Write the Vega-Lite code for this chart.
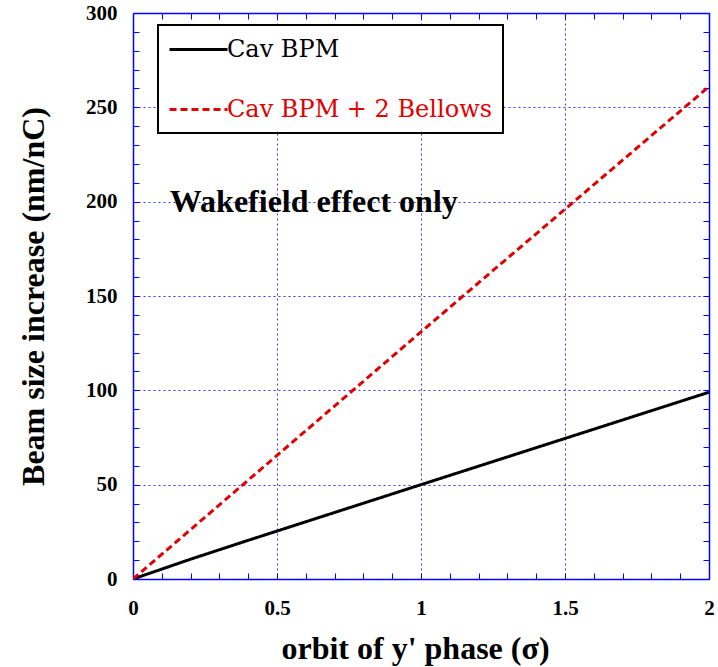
{
  "$schema": "https://vega.github.io/schema/vega-lite/v6.json",
  "width": 576,
  "height": 566,
  "autosize": {"type": "none"},
  "padding": {"left": 133, "top": 13, "right": 9, "bottom": 88},
  "background": "white",
  "view": {"stroke": null},
  "config": {
    "legend": {"labelFont": "DejaVu Serif", "labelFontSize": 24}
  },
  "datasets": {
    "main": [
      {"x": 0, "y": 0, "series": "Cav BPM"},
      {"x": 0.2, "y": 10.5, "series": "Cav BPM"},
      {"x": 0.4, "y": 20.5, "series": "Cav BPM"},
      {"x": 1.0, "y": 50, "series": "Cav BPM"},
      {"x": 1.5, "y": 74.5, "series": "Cav BPM"},
      {"x": 2.0, "y": 99, "series": "Cav BPM"},
      {"x": 0, "y": 0, "series": "Cav BPM + 2 Bellows"},
      {"x": 0.5, "y": 65.5, "series": "Cav BPM + 2 Bellows"},
      {"x": 1.0, "y": 131, "series": "Cav BPM + 2 Bellows"},
      {"x": 1.5, "y": 196, "series": "Cav BPM + 2 Bellows"},
      {"x": 2.0, "y": 261, "series": "Cav BPM + 2 Bellows"}
    ],
    "note": [
      {"x": 0.128, "y": 200, "label": "Wakefield effect only"}
    ]
  },
  "resolve": {"axis": {"x": "independent", "y": "independent"}},
  "layer": [
    {
      "data": {"name": "main"},
      "mark": {"type": "line", "strokeWidth": 3, "clip": true},
      "encoding": {
        "x": {
          "field": "x", "type": "quantitative",
          "scale": {"domain": [0, 2], "nice": false, "zero": false},
          "axis": {
            "orient": "bottom",
            "values": [0,0.1,0.2,0.3,0.4,0.5,0.6,0.7,0.8,0.9,1,1.1,1.2,1.3,1.4,1.5,1.6,1.7,1.8,1.9,2],
            "labelExpr": "abs(datum.value*2 - round(datum.value*2)) < 0.000001 ? '' + round(datum.value*10)/10 : ''",
            "labelFont": "Liberation Serif", "labelFontWeight": "bold", "labelFontSize": 21, "labelColor": "black",
            "labelPadding": 24, "labelFlush": false, "labelOverlap": false, "labelBaseline": "top",
            "domainColor": "#0000ff", "domainWidth": 1.5,
            "tickColor": "#0000ff", "tickWidth": 1, "tickSize": -6,
            "grid": true, "gridColor": "#3333ff", "gridDash": [2, 3], "gridWidth": 1,
            "gridOpacity": {"condition": {"test": "abs(datum.value*2 - round(datum.value*2)) < 0.000001", "value": 1}, "value": 0},
            "title": "orbit of y' phase (σ)",
            "titleFont": "Liberation Serif", "titleFontWeight": "bold", "titleFontSize": 32, "titleColor": "black",
            "titleX": 282, "titleY": 79, "titleBaseline": "alphabetic"
          }
        },
        "y": {
          "field": "y", "type": "quantitative",
          "scale": {"domain": [0, 300], "nice": false},
          "axis": {
            "orient": "left",
            "values": [0,10,20,30,40,50,60,70,80,90,100,110,120,130,140,150,160,170,180,190,200,210,220,230,240,250,260,270,280,290,300],
            "labelExpr": "datum.value % 50 === 0 ? '' + datum.value : ''",
            "labelFont": "Liberation Serif", "labelFontWeight": "bold", "labelFontSize": 21, "labelColor": "black",
            "labelPadding": 22, "labelFlush": false, "labelOverlap": false,
            "domainColor": "#0000ff", "domainWidth": 1.5,
            "tickColor": "#0000ff", "tickWidth": 1, "tickSize": -6,
            "grid": true, "gridColor": "#3333ff", "gridDash": [2, 3], "gridWidth": 1,
            "gridOpacity": {"condition": {"test": "datum.value % 50 === 0", "value": 1}, "value": 0},
            "title": "Beam size increase (nm/nC)",
            "titleFont": "Liberation Serif", "titleFontWeight": "bold", "titleFontSize": 32, "titleColor": "black",
            "titleX": -90, "titleBaseline": "alphabetic"
          }
        },
        "color": {
          "field": "series", "type": "nominal",
          "scale": {"domain": ["Cav BPM", "Cav BPM + 2 Bellows"], "range": ["#000000", "#e00000"]},
          "legend": {
            "title": null, "orient": "none", "legendX": 25, "legendY": 12,
            "fillColor": "white", "strokeColor": "black", "padding": 11,
            "symbolType": "M-2.5,0H2.5", "symbolSize": 538, "symbolStrokeWidth": 3, "symbolOffset": 16,
            "labelFont": "DejaVu Serif", "labelFontSize": 24, "labelOffset": 15,
            "rowPadding": 34, "labelLimit": 400,
            "encode": {
              "legend": {"update": {"strokeWidth": {"value": 2}}},
              "labels": {"update": {"fill": {"signal": "datum.label === 'Cav BPM' ? '#000000' : '#e00000'"}}}
            }
          }
        },
        "strokeDash": {
          "field": "series", "type": "nominal",
          "scale": {"domain": ["Cav BPM", "Cav BPM + 2 Bellows"], "range": [[1, 0], [7, 4]]},
          "legend": {
            "title": null, "orient": "none", "legendX": 25, "legendY": 12,
            "fillColor": "white", "strokeColor": "black", "padding": 11,
            "symbolType": "M-2.5,0H2.5", "symbolSize": 538, "symbolStrokeWidth": 3, "symbolOffset": 16,
            "labelFont": "DejaVu Serif", "labelFontSize": 24, "labelOffset": 15,
            "rowPadding": 34, "labelLimit": 400,
            "encode": {
              "legend": {"update": {"strokeWidth": {"value": 2}}},
              "labels": {"update": {"fill": {"signal": "datum.label === 'Cav BPM' ? '#000000' : '#e00000'"}}}
            }
          }
        }
      }
    },
    {
      "data": {"name": "main"},
      "mark": {"type": "line", "strokeOpacity": 0},
      "encoding": {
        "detail": {"field": "series"},
        "x": {
          "field": "x", "type": "quantitative",
          "axis": {
            "orient": "top", "labels": false, "title": null, "grid": false,
            "values": [0,0.1,0.2,0.3,0.4,0.5,0.6,0.7,0.8,0.9,1,1.1,1.2,1.3,1.4,1.5,1.6,1.7,1.8,1.9,2],
            "domainColor": "#0000ff", "domainWidth": 1.5,
            "tickColor": "#0000ff", "tickWidth": 1, "tickSize": -6
          }
        },
        "y": {
          "field": "y", "type": "quantitative",
          "axis": {
            "orient": "right", "labels": false, "title": null, "grid": false,
            "values": [0,10,20,30,40,50,60,70,80,90,100,110,120,130,140,150,160,170,180,190,200,210,220,230,240,250,260,270,280,290,300],
            "domainColor": "#0000ff", "domainWidth": 1.5,
            "tickColor": "#0000ff", "tickWidth": 1, "tickSize": -6
          }
        }
      }
    },
    {
      "data": {"name": "note"},
      "mark": {"type": "text", "align": "left", "baseline": "middle", "font": "Liberation Serif", "fontWeight": "bold", "fontSize": 32, "color": "black"},
      "encoding": {
        "x": {"field": "x", "type": "quantitative", "axis": null},
        "y": {"field": "y", "type": "quantitative", "axis": null},
        "text": {"field": "label"}
      }
    }
  ]
}
